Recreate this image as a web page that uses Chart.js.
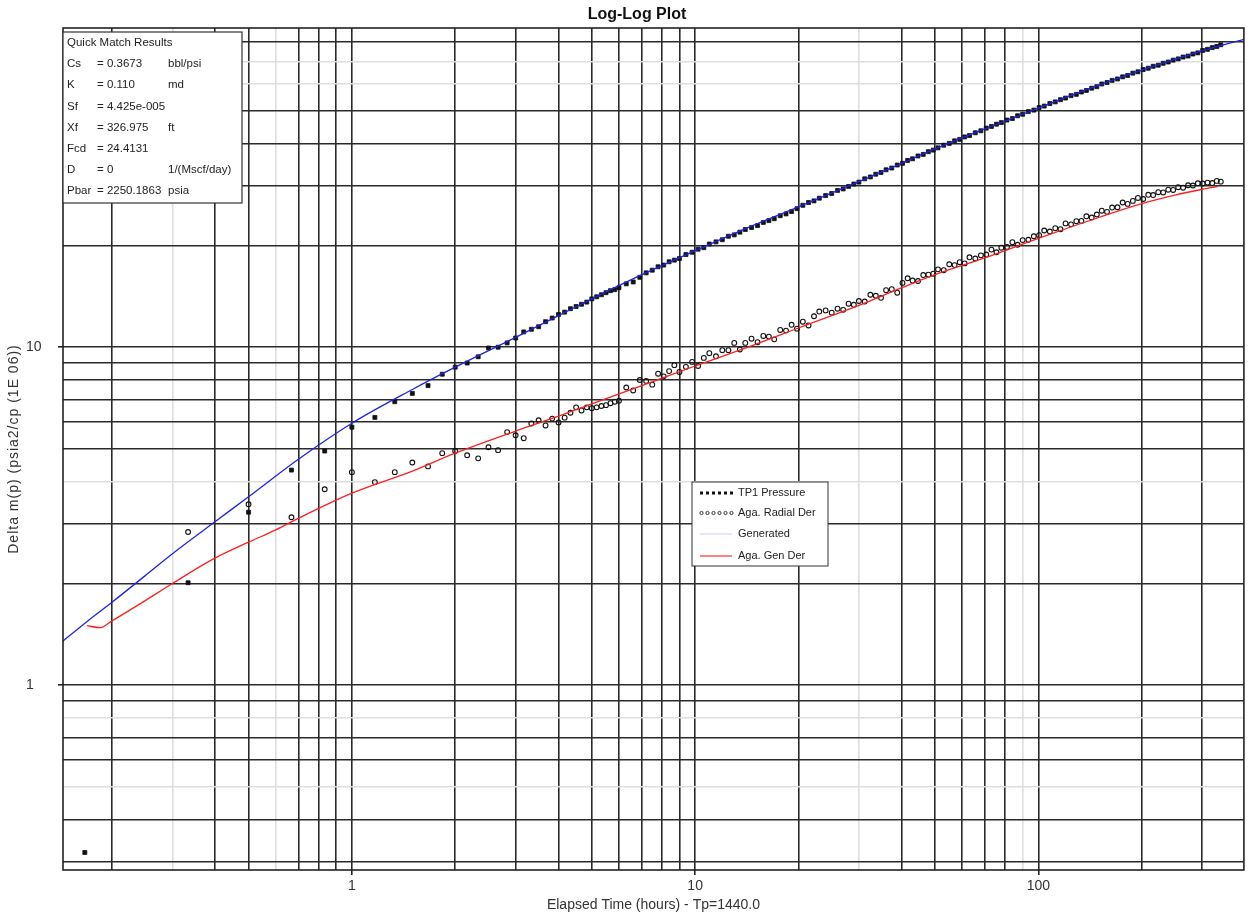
<!DOCTYPE html>
<html lang="en">
<head>
<meta charset="UTF-8">
<title>Log-Log Plot</title>
<script src="https://cdn.jsdelivr.net/npm/chart.js"></script>
<style>
  html, body { margin: 0; padding: 0; background: #fff; }
  .wrap { width: 1249px; height: 919px; position: relative; }
</style>
</head>
<body>
<div class="wrap"><canvas id="plot"></canvas></div>
<script>
// measured data (hours, psia2/cp 1E-06)
const elapsedHours = [
  0.1667, 0.3333, 0.5, 0.6667, 0.8333, 1.0, 1.1667, 1.3333, 1.5, 1.6667,
  1.8333, 2.0, 2.1667, 2.3333, 2.5, 2.6667, 2.8333, 3.0, 3.1667, 3.3333,
  3.5, 3.6667, 3.8333, 4.0, 4.1667, 4.3333, 4.5, 4.6667, 4.8333, 5.0,
  5.1667, 5.3333, 5.5, 5.6667, 5.8333, 6.0,
  6.3, 6.6, 6.9, 7.2, 7.5, 7.8, 8.1, 8.4, 8.7, 9.0,
  9.4, 9.8, 10.2, 10.6, 11.0, 11.5, 12, 12.5, 13, 13.5,
  14, 14.6, 15.2, 15.8, 16.4, 17, 17.7, 18.4, 19.1, 19.8,
  20.6, 21.4, 22.2, 23, 24, 25, 26, 27, 28, 29,
  30, 31.2, 32.4, 33.6, 34.8, 36, 37.4, 38.8, 40.2, 41.6,
  43, 44.6, 46.2, 47.8, 49.4, 51, 53, 55, 57, 59,
  61, 63, 65.5, 68, 70.5, 73, 75.5, 78, 81, 84,
  87, 90, 93.5, 97, 100.5, 104, 108, 112, 116, 120,
  124.5, 129, 133.5, 138, 143, 148, 153, 158.5, 164, 170,
  176, 182, 188.5, 195, 202, 209, 216, 223.5, 231, 239,
  247, 255.5, 264, 273, 282, 291.5, 301, 311, 321, 331,
  340
];
const tp1Pressure = [
  0.32, 2.01, 3.25, 4.33, 4.93, 5.8, 6.2, 6.9, 7.3, 7.7,
  8.32, 8.73, 8.98, 9.37, 9.95, 10.0, 10.3, 10.65, 11.1, 11.3,
  11.5, 11.9, 12.2, 12.5, 12.7, 13.0, 13.2, 13.4, 13.6, 13.9,
  14.1, 14.3, 14.5, 14.7, 14.8, 15.0,
  15.4, 15.6, 16.1, 16.6, 16.9, 17.3, 17.5, 17.9, 18.1, 18.3,
  18.8, 19.1, 19.5, 19.7, 20.2, 20.5, 20.8, 21.3, 21.5, 21.9,
  22.3, 22.6, 22.9, 23.4, 23.7, 24.0, 24.5, 24.8, 25.2, 25.7,
  26.3, 26.8, 27.1, 27.6, 28.1, 28.5, 29.1, 29.4, 29.9, 30.4,
  30.8, 31.5, 31.9, 32.5, 32.9, 33.5, 33.9, 34.6, 35.0, 35.7,
  36.1, 36.8, 37.2, 37.9, 38.3, 38.9, 39.6, 40.1, 40.8, 41.2,
  41.9, 42.3, 43.1, 43.7, 44.5, 45.0, 45.7, 46.2, 47.0, 47.5,
  48.4, 48.9, 49.8, 50.3, 51.2, 51.7, 52.6, 53.2, 54.0, 54.6,
  55.5, 56.0, 56.9, 57.5, 58.4, 59.0, 60.1, 60.7, 61.6, 62.2,
  63.1, 63.7, 64.7, 65.3, 66.3, 66.9, 67.8, 68.3, 69.2, 69.8,
  70.7, 71.3, 72.2, 72.7, 73.7, 74.3, 75.5, 76.1, 77.0, 77.6,
  78.5
];
const agaRadialDer = [
  null, 2.84, 3.43, 3.14, 3.8, 4.27, 3.99, 4.27, 4.56, 4.44,
  4.86, 4.93, 4.79, 4.69, 5.06, 4.96, 5.61, 5.49, 5.38, 5.95,
  6.08, 5.87, 6.15, 5.99, 6.19, 6.4, 6.64, 6.5, 6.64, 6.6,
  6.64, 6.7, 6.74, 6.83, 6.9, 6.95,
  7.6, 7.45, 8.0, 7.95, 7.75, 8.35, 8.2, 8.5, 8.85, 8.45,
  8.75, 9.05, 8.8, 9.3, 9.6, 9.4, 9.8, 9.8, 10.3, 9.85,
  10.3, 10.6, 10.35, 10.8, 10.75, 10.55, 11.25, 11.2, 11.65, 11.35,
  11.9, 11.6, 12.35, 12.75, 12.85, 12.65, 13.0, 12.9, 13.45, 13.35,
  13.7, 13.65, 14.3, 14.2, 14.0, 14.75, 14.85, 14.5, 15.5, 16.0,
  15.75, 15.7, 16.35, 16.4, 16.5, 17.0, 16.9, 17.6, 17.5, 17.85,
  17.7, 18.45, 18.3, 18.7, 18.8, 19.45, 19.1, 19.7, 19.8, 20.45,
  20.1, 20.75, 20.8, 21.3, 21.45, 22.15, 22.0, 22.5, 22.35, 23.25,
  23.1, 23.6, 23.65, 24.4, 24.2, 24.7, 25.35, 25.15, 25.9, 25.95,
  26.8, 26.55, 27.1, 27.65, 27.45, 28.25, 28.2, 28.75, 28.7, 29.25,
  29.2, 29.75, 29.65, 30.15, 30.1, 30.55, 30.5, 30.7, 30.6, 31.05,
  30.9
];

// model curves
const generatedTime = [0.14, 0.17, 0.2, 0.25, 0.3, 0.4, 0.5, 0.7, 1, 1.5, 2, 3, 4, 5, 7, 10, 15, 20, 30, 40, 50, 70, 100, 150, 200, 300, 400];
const generatedValue = [1.32, 1.55, 1.76, 2.11, 2.45, 3.05, 3.61, 4.67, 5.96, 7.5, 8.73, 10.7, 12.4, 13.9, 16.4, 19.3, 23.1, 26.0, 30.9, 35.0, 38.6, 44.3, 51.0, 59.6, 66.0, 75.3, 81.6];
const genDerTime = [0.169, 0.185, 0.2, 0.25, 0.3, 0.4, 0.5, 0.6, 0.7, 1, 1.5, 2, 3, 4, 5, 7, 10, 15, 20, 30, 40, 50, 70, 100, 150, 200, 250, 300, 334];
const genDerValue = [1.50, 1.48, 1.55, 1.78, 2.0, 2.38, 2.65, 2.88, 3.12, 3.70, 4.3, 4.86, 5.65, 6.25, 6.8, 7.7, 8.8, 10.2, 11.4, 13.3, 15.0, 16.4, 18.4, 21.0, 24.2, 26.6, 28.2, 29.3, 29.9];

// axes
const xTickLabels = [1, 10, 100];
const yTickLabels = [1, 10];
const xGrid = [0.2, 0.3, 0.4, 0.5, 0.6, 0.7, 0.8, 0.9, 1, 2, 3, 4, 5, 6, 7, 8, 9, 10,
               20, 30, 40, 50, 60, 70, 80, 90, 100, 200, 300];
const yGrid = [0.3, 0.4, 0.5, 0.6, 0.7, 0.8, 0.9, 1, 2, 3, 4, 5, 6, 7, 8, 9, 10,
               20, 30, 40, 50, 60, 70, 80];
const xGridFaint = [0.3, 0.6, 30, 90];
const yGridFaint = [0.5, 0.8, 4, 60, 70];

const matchRows = [
  ['Cs', '= 0.3673', 'bbl/psi'],
  ['K', '= 0.110', 'md'],
  ['Sf', '= 4.425e-005', ''],
  ['Xf', '= 326.975', 'ft'],
  ['Fcd', '= 24.4131', ''],
  ['D', '= 0', '1/(Mscf/day)'],
  ['Pbar', '= 2250.1863', 'psia']
];

const FONT = '"Liberation Sans", Arial, sans-serif';

function gridColor(c, faint) {
  if (!c.tick) return '#2a2a2a';
  return faint.includes(c.tick.value) ? '#dedede' : '#2a2a2a';
}

const decor = {
  id: 'decor',
  afterDraw(chart) {
    const { ctx, chartArea: a, scales } = chart;
    ctx.save();

    // frame
    ctx.strokeStyle = '#222';
    ctx.lineWidth = 1.6;
    ctx.strokeRect(a.left, a.top, a.right - a.left, a.bottom - a.top);

    // title
    ctx.fillStyle = '#111';
    ctx.font = 'bold 16px ' + FONT;
    ctx.textAlign = 'center';
    ctx.textBaseline = 'middle';
    ctx.fillText('Log-Log Plot', 637, 15);

    // tick labels
    ctx.fillStyle = '#333';
    ctx.font = '14px ' + FONT;
    xTickLabels.forEach(v => ctx.fillText(String(v), scales.x.getPixelForValue(v), a.bottom + 16));
    ctx.textAlign = 'left';
    yTickLabels.forEach(v => ctx.fillText(String(v), 26, scales.y.getPixelForValue(v)));

    // axis titles
    ctx.font = '14px ' + FONT;
    ctx.textAlign = 'center';
    ctx.fillText('Elapsed Time (hours) - Tp=1440.0', (a.left + a.right) / 2, a.bottom + 35);
    ctx.save();
    ctx.translate(14, (a.top + a.bottom) / 2);
    ctx.rotate(-Math.PI / 2);
    ctx.letterSpacing = '1px';
    ctx.fillText('Delta m(p) (psia2/cp (1E 06))', 0, 0);
    ctx.restore();

    // quick match box
    ctx.fillStyle = '#fff';
    ctx.fillRect(a.left, 32, 179, 171);
    ctx.strokeStyle = '#333';
    ctx.lineWidth = 1.2;
    ctx.strokeRect(a.left, 32, 179, 171);
    ctx.fillStyle = '#222';
    ctx.font = '11.5px ' + FONT;
    ctx.textAlign = 'left';
    ctx.fillText('Quick Match Results', 67, 43);
    matchRows.forEach((r, i) => {
      const y = 64 + i * 21.2;
      ctx.fillText(r[0], 67, y);
      const nameEnd = 67 + ctx.measureText(r[0]).width + 5;
      ctx.fillText(r[1], Math.max(97, nameEnd), y);
      if (r[2]) ctx.fillText(r[2], 168, y);
    });

    // legend box
    const lx = 692, ly = 482, lw = 136, lh = 84;
    ctx.fillStyle = '#fff';
    ctx.fillRect(lx, ly, lw, lh);
    ctx.strokeStyle = '#333';
    ctx.lineWidth = 1;
    ctx.strokeRect(lx, ly, lw, lh);
    const rows = [493, 513, 534, 556];
    // TP1 Pressure sample
    ctx.fillStyle = '#111';
    for (let k = 0; k < 6; k++) ctx.fillRect(700 + k * 6, rows[0] - 1.5, 3, 3);
    // radial der sample
    ctx.strokeStyle = '#222';
    ctx.lineWidth = 0.9;
    for (let k = 0; k < 6; k++) {
      ctx.beginPath();
      ctx.arc(701.5 + k * 6, rows[1], 1.6, 0, Math.PI * 2);
      ctx.stroke();
    }
    // generated sample
    ctx.strokeStyle = '#d2d6ee';
    ctx.lineWidth = 1.2;
    ctx.beginPath(); ctx.moveTo(700, rows[2]); ctx.lineTo(732, rows[2]); ctx.stroke();
    // gen der sample
    ctx.strokeStyle = '#ff2a2a';
    ctx.beginPath(); ctx.moveTo(700, rows[3]); ctx.lineTo(732, rows[3]); ctx.stroke();

    ctx.fillStyle = '#222';
    ctx.font = '11px ' + FONT;
    ['TP1 Pressure', 'Aga. Radial Der', 'Generated', 'Aga. Gen Der']
      .forEach((t, i) => ctx.fillText(t, 738, rows[i]));

    ctx.restore();
  }
};

const pts = (xs, ys) => xs.map((t, i) => ({ x: t, y: ys[i] })).filter(p => p.y !== null);

new Chart(document.getElementById('plot'), {
  type: 'scatter',
  data: {
    datasets: [
      {
        label: 'Generated',
        type: 'line',
        data: pts(generatedTime, generatedValue),
        borderColor: '#1f24e0',
        borderWidth: 1.3,
        pointRadius: 0,
        fill: false,
        cubicInterpolationMode: 'monotone'
      },
      {
        label: 'Aga. Gen Der',
        type: 'line',
        data: pts(genDerTime, genDerValue),
        borderColor: '#ff1f1f',
        borderWidth: 1.3,
        pointRadius: 0,
        fill: false,
        cubicInterpolationMode: 'monotone'
      },
      {
        label: 'TP1 Pressure',
        data: pts(elapsedHours, tp1Pressure),
        pointStyle: 'rect',
        pointRadius: 2.8,
        backgroundColor: '#111',
        borderColor: '#111',
        borderWidth: 0.8
      },
      {
        label: 'Aga. Radial Der',
        data: pts(elapsedHours, agaRadialDer),
        pointStyle: 'circle',
        pointRadius: 2.4,
        backgroundColor: 'rgba(255,255,255,0)',
        borderColor: '#111',
        borderWidth: 1.1
      }
    ]
  },
  options: {
    responsive: true,
    maintainAspectRatio: false,
    animation: false,
    layout: { padding: { top: 28, right: 1, left: 0, bottom: 0 } },
    plugins: {
      legend: { display: false },
      tooltip: { enabled: false },
      title: { display: false }
    },
    scales: {
      x: {
        type: 'logarithmic',
        min: 0.144,
        max: 397,
        afterBuildTicks: s => { s.ticks = xGrid.map(v => ({ value: v })); },
        afterFit: s => { s.height = 49; },
        ticks: { display: false },
        border: { display: false },
        grid: {
          color: c => gridColor(c, xGridFaint),
          lineWidth: 1.6,
          drawTicks: true,
          tickLength: 5,
          tickColor: c => (c.tick && xTickLabels.includes(c.tick.value)) ? '#222' : 'rgba(0,0,0,0)'
        }
      },
      y: {
        type: 'logarithmic',
        min: 0.284,
        max: 88,
        afterBuildTicks: s => { s.ticks = yGrid.map(v => ({ value: v })); },
        afterFit: s => { s.width = 63; },
        ticks: { display: false },
        border: { display: false },
        grid: {
          color: c => gridColor(c, yGridFaint),
          lineWidth: 1.6,
          drawTicks: true,
          tickLength: 5,
          tickColor: c => (c.tick && yTickLabels.includes(c.tick.value)) ? '#222' : 'rgba(0,0,0,0)'
        }
      }
    }
  },
  plugins: [decor]
});
</script>
</body>
</html>
